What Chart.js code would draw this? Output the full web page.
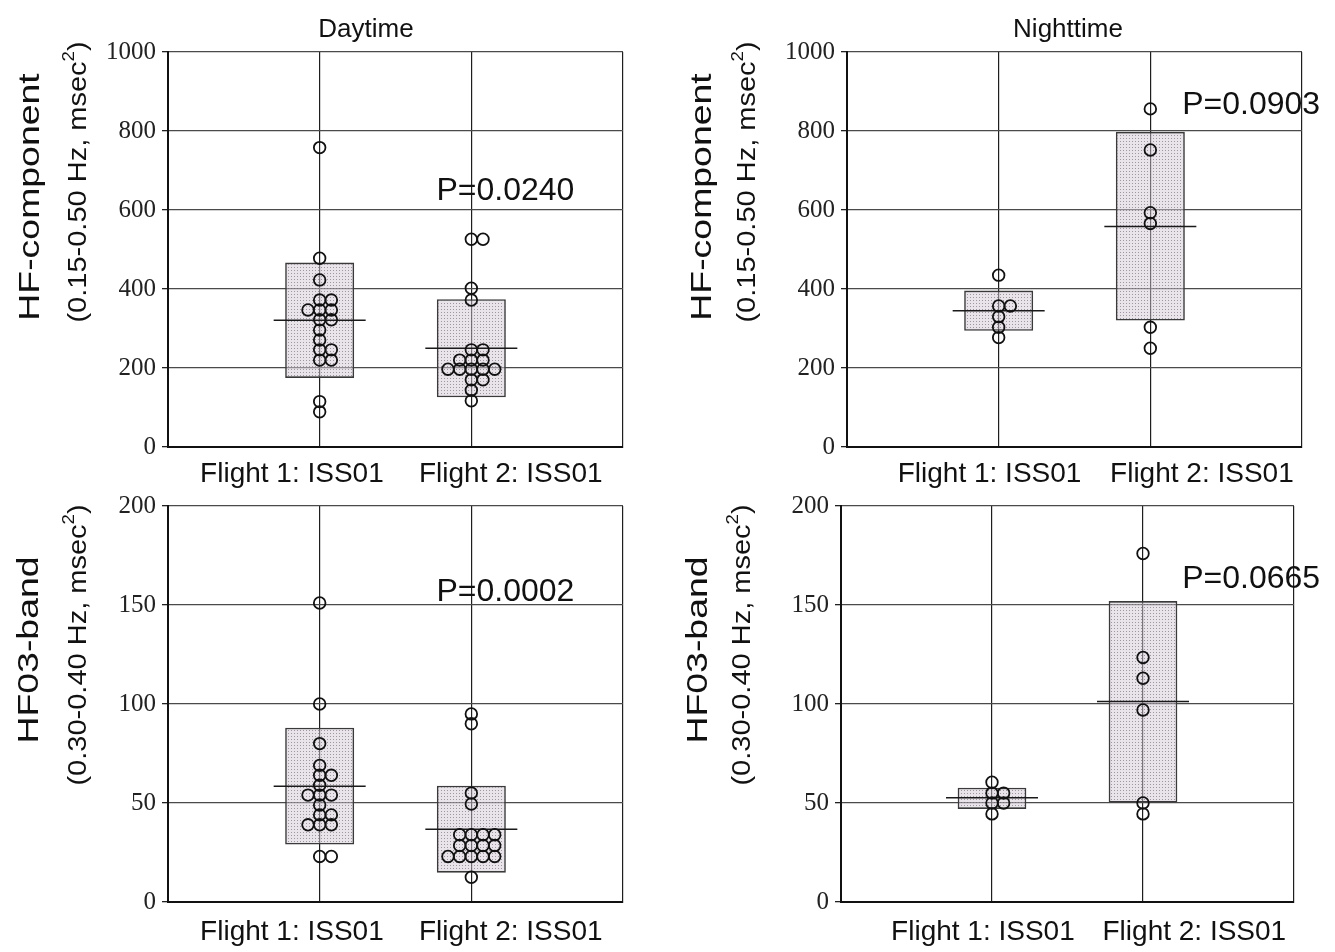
<!DOCTYPE html>
<html>
<head>
<meta charset="utf-8">
<script src="https://cdn.jsdelivr.net/npm/chart.js@4.4.1/dist/chart.umd.min.js"></script>
<style>
  html, body { margin: 0; padding: 0; background: #fff; }
  #wrap { position: relative; width: 1335px; height: 952px; overflow: hidden; }
  .panel { position: absolute; }
</style>
</head>
<body>
<div id="wrap">
  <div class="panel" style="left:0;top:0;width:667px;height:490px"><canvas id="dayHf"></canvas></div>
  <div class="panel" style="left:667px;top:0;width:668px;height:490px"><canvas id="nightHf"></canvas></div>
  <div class="panel" style="left:0;top:490px;width:667px;height:462px"><canvas id="dayBand"></canvas></div>
  <div class="panel" style="left:667px;top:490px;width:668px;height:462px"><canvas id="nightBand"></canvas></div>
</div>
<script>
/* categories */
var flights = ['Flight 1: ISS01', 'Flight 2: ISS01'];

/* HF-component, daytime (msec^2) */
var dayHfF1 = [758, 478, 423, 372, 372, 347, 347, 347, 322, 322, 296, 271, 246, 246, 220, 220, 115, 89];
var dayHfF2 = [526, 526, 402, 372, 246, 246, 220, 220, 220, 197, 197, 197, 197, 197, 170, 170, 144, 117];
var dayHfMean = [321, 250];
var dayHfLow = [175, 126];
var dayHfHigh = [467, 374];

/* HF-component, nighttime */
var nightHfF1 = [435, 357, 357, 330, 303, 277];
var nightHfF2 = [856, 752, 593, 566, 303, 250];
var nightHfMean = [345, 558];
var nightHfLow = [294, 320];
var nightHfHigh = [396, 798];

/* HF03-band, daytime */
var dayBandF1 = [151, 100, 80, 69, 64, 64, 59, 54, 54, 54, 49, 44, 44, 39, 39, 39, 23, 23];
var dayBandF2 = [95, 90, 55, 49.5, 34, 34, 34, 34, 28.5, 28.5, 28.5, 28.5, 23, 23, 23, 23, 23, 12.5];
var dayBandMean = [58.5, 36.7];
var dayBandLow = [29, 14.8];
var dayBandHigh = [88, 58.7];

/* HF03-band, nighttime */
var nightBandF1 = [60.5, 55, 55, 50, 50, 44.5];
var nightBandF2 = [176, 123.5, 113, 97, 50, 44.5];
var nightBandMean = [52.7, 101.2];
var nightBandLow = [47, 50.2];
var nightBandHigh = [57.7, 152];

var hfTicks = [0, 200, 400, 600, 800, 1000];
var bandTicks = [0, 50, 100, 150, 200];
var pValues = ['P=0.0240', 'P=0.0903', 'P=0.0002', 'P=0.0665'];

var SANS = '"Liberation Sans", Arial, sans-serif';
var SERIF = '"Liberation Serif", "Times New Roman", serif';
var SWARM_STEP = 0.077; // one circle width, in x-axis units
var SWARM_ORDER = [0, 1, -1, 2, -2, 3, -3];

// equal values sit side by side: centre, right, left, ...
function swarm(values, cat) {
  var seen = {};
  return values.map(function (v) {
    var k = String(v);
    var n = seen[k] || 0;
    seen[k] = n + 1;
    return { x: cat + SWARM_ORDER[n] * SWARM_STEP, y: v };
  });
}

function dotPattern() {
  var c = document.createElement('canvas');
  c.width = 3; c.height = 3;
  var g = c.getContext('2d');
  g.fillStyle = 'rgba(212,200,214,0.5)';
  g.fillRect(0, 0, 3, 3);
  g.fillStyle = 'rgba(95,88,100,0.55)';
  g.fillRect(0, 0, 1, 1);
  return g.createPattern(c, 'repeat');
}

function drawVertical(ctx, parts, cx, cy, stretch) {
  ctx.save();
  ctx.translate(cx, cy);
  ctx.rotate(-Math.PI / 2);
  ctx.scale(stretch, 1);
  var total = 0;
  parts.forEach(function (p) {
    ctx.font = p.size + 'px ' + SANS;
    p.w = ctx.measureText(p.t).width;
    total += p.w;
  });
  var x = -total / 2;
  ctx.textAlign = 'left';
  ctx.textBaseline = 'middle';
  parts.forEach(function (p) {
    ctx.font = p.size + 'px ' + SANS;
    ctx.fillText(p.t, x, -(p.rise || 0));
    x += p.w;
  });
  ctx.restore();
}

var panelText = {
  id: 'panelText',
  afterDraw: function (chart, args, o) {
    var ctx = chart.ctx;
    var xs = chart.scales.x, ys = chart.scales.y;
    ctx.save();
    ctx.fillStyle = '#111';
    if (o.title) {
      ctx.font = '26px ' + SANS;
      ctx.textAlign = 'center';
      ctx.textBaseline = 'alphabetic';
      ctx.fillText(o.title, o.titleX, o.titleY);
    }
    ctx.font = '32px ' + SANS;
    ctx.textAlign = 'left';
    ctx.textBaseline = 'alphabetic';
    ctx.fillText(o.pText, xs.getPixelForValue(o.pAt[0]), ys.getPixelForValue(o.pAt[1]));
    drawVertical(ctx, [{ t: o.yMain, size: 29 }], o.mainX, o.mainY, 1.29);
    drawVertical(ctx, [
      { t: o.ySub, size: 25 },
      { t: '2', size: 16, rise: 9 },
      { t: ')', size: 25 }
    ], o.subX, o.subY, 1.16);
    ctx.restore();
  }
};

function makePanel(id, p) {
  var pattern = dotPattern();
  var points = swarm(p.f1, 1).concat(swarm(p.f2, 2));
  new Chart(document.getElementById(id), {
    type: 'scatter',
    data: {
      datasets: [
        {
          type: 'scatter',
          data: points,
          pointStyle: 'circle',
          pointRadius: 5.8,
          borderWidth: 1.8,
          borderColor: '#111',
          backgroundColor: 'rgba(0,0,0,0)',
          xAxisID: 'x', yAxisID: 'y', order: 1
        },
        {
          type: 'scatter',
          data: p.mean.map(function (m, i) { return { x: i + 1, y: m }; }),
          pointStyle: 'line',
          pointRadius: 46,
          borderWidth: 1.5,
          borderColor: '#1a1a1a',
          xAxisID: 'x', yAxisID: 'y', order: 2
        },
        {
          type: 'bar',
          data: p.low.map(function (l, i) { return { x: i + 1, y: [l, p.high[i]] }; }),
          backgroundColor: pattern,
          borderColor: '#3a3a3a',
          borderWidth: 1.6,
          borderSkipped: false,
          barPercentage: 0.455,
          categoryPercentage: 1,
          xAxisID: 'x', yAxisID: 'y', order: 3
        }
      ]
    },
    options: {
      responsive: true,
      maintainAspectRatio: false,
      animation: false,
      events: [],
      layout: { autoPadding: false, padding: { top: p.padTop, right: p.padRight, left: 0, bottom: 0 } },
      plugins: {
        legend: { display: false },
        tooltip: { enabled: false },
        panelText: p.text
      },
      scales: {
        x: {
          type: 'linear', min: 0, max: 3, offset: false,
          afterBuildTicks: function (s) { s.ticks = [0, 1, 2, 3].map(function (v) { return { value: v }; }); },
          ticks: { display: false },
          grid: { color: '#1e1e1e', lineWidth: 1.2, drawTicks: false, offset: false },
          border: { color: '#111', width: 2 },
          afterFit: function (s) { s.height = 0; }
        },
        xLab: {
          type: 'linear', position: 'bottom', min: 0, max: 3, offset: false,
          afterBuildTicks: function (s) { s.ticks = p.labelAt.map(function (v) { return { value: v }; }); },
          ticks: {
            autoSkip: false, maxRotation: 0, padding: p.labelPad,
            font: { family: SANS, size: 28 }, color: '#111',
            callback: function (v, i) { return flights[i]; }
          },
          grid: { display: false },
          border: { display: false },
          afterFit: function (s) { s.height = p.labelH; }
        },
        y: {
          min: 0, max: p.ticks[p.ticks.length - 1],
          afterBuildTicks: function (s) { s.ticks = p.ticks.map(function (v) { return { value: v }; }); },
          ticks: {
            font: { family: SERIF, size: 25 }, color: '#222', padding: 6,
            callback: function (v) { return String(v); }
          },
          grid: { color: '#4a4a4a', lineWidth: 1.3, drawTicks: true, tickLength: 6, tickColor: '#222' },
          border: { color: '#111', width: 2 },
          afterFit: function (s) { s.width = p.yWidth; s.paddingTop = 0; s.paddingBottom = 0; }
        }
      }
    },
    plugins: [panelText]
  });
}

makePanel('dayHf', {
  f1: dayHfF1, f2: dayHfF2, mean: dayHfMean, low: dayHfLow, high: dayHfHigh, ticks: hfTicks,
  padTop: 52, padRight: 44, yWidth: 168, labelH: 43, labelPad: 2, labelAt: [0.817, 2.26],
  text: { title: 'Daytime', titleX: 366, titleY: 37, pText: pValues[0], pAt: [1.77, 625],
          yMain: 'HF-component', mainX: 31, mainY: 197, ySub: '(0.15-0.50 Hz, msec', subX: 79, subY: 182 }
});
makePanel('nightHf', {
  f1: nightHfF1, f2: nightHfF2, mean: nightHfMean, low: nightHfLow, high: nightHfHigh, ticks: hfTicks,
  padTop: 52, padRight: 33, yWidth: 180, labelH: 43, labelPad: 2, labelAt: [0.94, 2.34],
  text: { title: 'Nighttime', titleX: 401, titleY: 37, pText: pValues[1], pAt: [2.21, 843],
          yMain: 'HF-component', mainX: 36, mainY: 197, ySub: '(0.15-0.50 Hz, msec', subX: 81, subY: 182 }
});
makePanel('dayBand', {
  f1: dayBandF1, f2: dayBandF2, mean: dayBandMean, low: dayBandLow, high: dayBandHigh, ticks: bandTicks,
  padTop: 16, padRight: 44, yWidth: 168, labelH: 50, labelPad: 5, labelAt: [0.817, 2.26],
  text: { title: '', pText: pValues[2], pAt: [1.77, 152],
          yMain: 'HF03-band', mainX: 30, mainY: 160, ySub: '(0.30-0.40 Hz, msec', subX: 79, subY: 155 }
});
makePanel('nightBand', {
  f1: nightBandF1, f2: nightBandF2, mean: nightBandMean, low: nightBandLow, high: nightBandHigh, ticks: bandTicks,
  padTop: 16, padRight: 41, yWidth: 174, labelH: 50, labelPad: 5, labelAt: [0.94, 2.34],
  text: { title: '', pText: pValues[3], pAt: [2.26, 158.6],
          yMain: 'HF03-band', mainX: 32, mainY: 160, ySub: '(0.30-0.40 Hz, msec', subX: 76, subY: 155 }
});
</script>
</body>
</html>
